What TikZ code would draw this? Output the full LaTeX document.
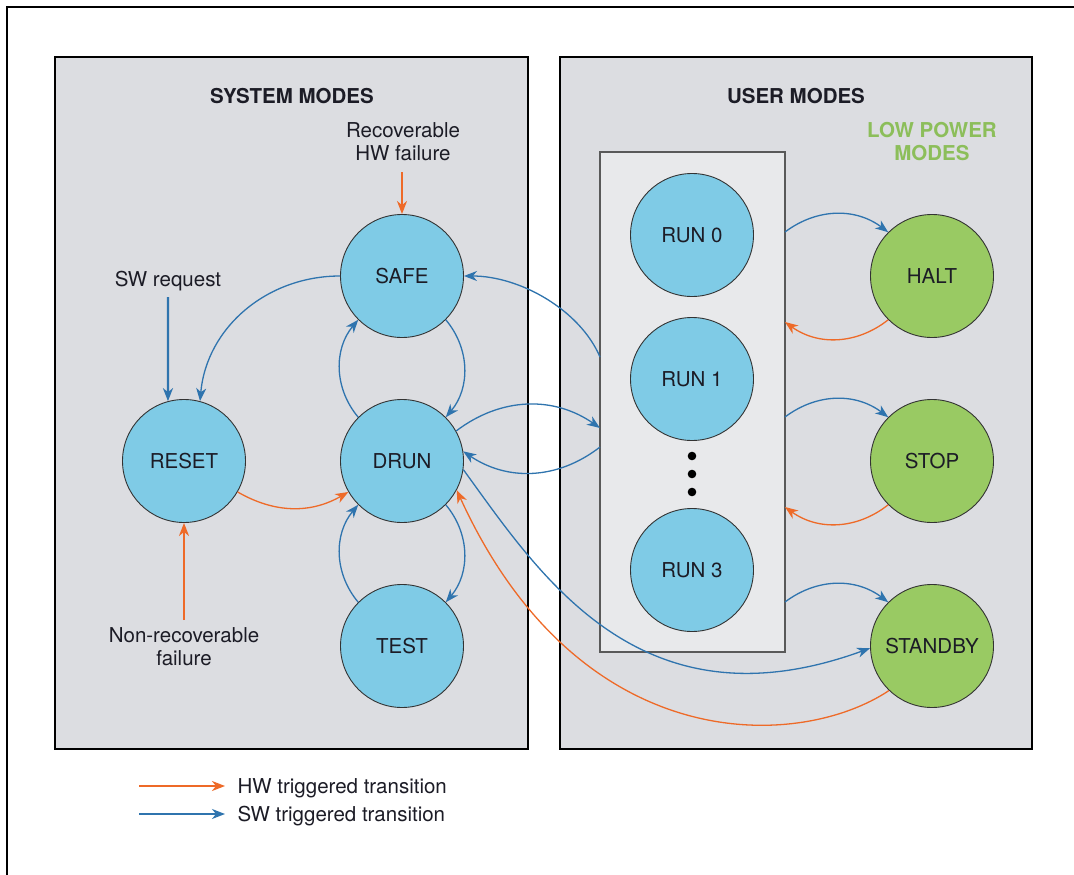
\documentclass[tikz,border=0pt]{standalone}
\usepackage{fontspec}
\setmainfont{TeX Gyre Heros}
\usetikzlibrary{arrows.meta}
\definecolor{panelgray}{HTML}{DCDDE1}
\definecolor{innergray}{HTML}{E8E9EB}
\definecolor{cblue}{HTML}{7FCBE6}
\definecolor{cgreen}{HTML}{99CA63}
\definecolor{ablue}{HTML}{2F74AE}
\definecolor{aorange}{HTML}{EE6A28}
\definecolor{tgreen}{HTML}{8CBE5A}
\definecolor{txt}{HTML}{1C1C26}
\begin{document}
\begin{tikzpicture}[x=1pt,y=1pt,
  font=\fontsize{20.5}{23}\selectfont,
  state/.style={circle, draw=black!80, line width=0.9pt, minimum size=123pt, inner sep=0pt, text=txt},
  umode/.style={state, fill=cblue},
  lpmode/.style={state, fill=cgreen},
  tip/.style={-{Stealth[length=13pt,width=10pt,inset=4pt]}},
  sw/.style={tip, draw=ablue, line width=1.3pt},
  hw/.style={tip, draw=aorange, line width=1.3pt},
  panelbox/.style={draw=black, line width=2.2pt, fill=panelgray, inner sep=0pt},
  lbl/.style={align=center, text=txt},
  ttl/.style={font=\fontsize{20.5}{23}\selectfont\bfseries, text=txt}
]
\useasboundingbox (0,0) rectangle (1074,-875);
\fill[white] (0,0) rectangle (1074,-875);
\draw[line width=2.6pt] (7,-876) -- (7,-7) -- (1075,-7);

% panels
\node[panelbox, minimum width=473pt, minimum height=692pt] (sys) at (291.5,-403) {};
\node[panelbox, minimum width=472pt, minimum height=692pt] (usr) at (796,-403) {};
\node[draw=black!65, line width=1.6pt, fill=innergray, minimum width=185pt, minimum height=500pt, inner sep=0pt] (runbox) at (692.5,-402) {};

% titles and labels
\node[ttl] (systitle) at (292,-96) {SYSTEM MODES};
\node[ttl] (usrtitle) at (796,-96) {USER MODES};
\node[ttl, text=tgreen, align=center] (lptitle) at (932,-142) {LOW POWER\\MODES};
\node[lbl] (recov) at (403,-142) {Recoverable\\HW failure};
\node[lbl, anchor=base] (swreq) at (168,-286) {SW request};
\node[lbl] (nonrec) at (184,-647) {Non-recoverable\\failure};

% states
\node[umode] (safe) at (402,-276) {SAFE};
\node[umode] (drun) at (402,-461) {DRUN};
\node[umode] (test) at (402,-646) {TEST};
\node[umode] (reset) at (184,-461) {RESET};
\node[umode] (run0) at (692,-235) {RUN 0};
\node[umode] (run1) at (692,-379) {RUN 1};
\node[umode] (run3) at (692,-570) {RUN 3};
\node[lpmode] (halt) at (932,-276) {HALT};
\node[lpmode] (stop) at (932,-461) {STOP};
\node[lpmode] (standby) at (932,-646) {STANDBY};

\foreach \yy in {456,474,492} \fill[black] (692,-\yy) circle (4.3);

% free ends
\coordinate (recovA) at (402,-172);
\coordinate (swA) at (168,-297);
\coordinate (nonA) at (184,-620);
\coordinate (bxSafe) at (600,-357);
\coordinate (bxA) at (600,-428);
\coordinate (bxB) at (600,-447);
\coordinate (bxH1) at (785,-232);
\coordinate (bxH2) at (785,-322);
\coordinate (bxS1) at (785,-417);
\coordinate (bxS2) at (785,-507);
\coordinate (bxT1) at (785,-602);

% external triggers
\draw[hw, line width=2pt] (recovA) -- (safe.north);
\draw[sw, line width=2.2pt] (swA) -- (reset.105);
\draw[hw, line width=2.4pt] (nonA) -- (reset.south);

% system transitions
\draw[sw] (safe.180) to[out=180,in=85] (reset.75);
\draw[hw] (reset.-30) to[bend right=30] (drun.210);
\draw[sw] (safe.-45) to[bend left=40] (drun.45);
\draw[sw] (drun.135) to[bend left=40] (safe.225);
\draw[sw] (drun.-45) to[bend left=40] (test.45);
\draw[sw] (test.135) to[bend left=40] (drun.225);

% system <-> user
\draw[sw] (bxSafe) .. controls (580,-310) and (520,-276) .. (safe.0);
\draw[sw] (drun.29) to[bend left=36] (bxA);
\draw[sw] (bxB) to[bend left=36] (drun.9);

% user <-> low power
\draw[sw] (bxH1) to[bend left=37] (halt.135);
\draw[hw] (halt.225) to[bend left=37] (bxH2);
\draw[sw] (bxS1) to[bend left=37] (stop.135);
\draw[hw] (stop.225) to[bend left=37] (bxS2);
\draw[sw] (bxT1) to[bend left=37] (standby.135);
\draw[sw] (drun.-8) .. controls (540,-575) and (640,-732) .. (standby.182);
\draw[hw] (standby.226) .. controls (800,-750) and (580,-760) .. (drun.-28);

% legend
\coordinate (lh1) at (139,-786);
\coordinate (lh2) at (225,-786);
\coordinate (ls1) at (139,-814);
\coordinate (ls2) at (225,-814);
\draw[hw, line width=2.2pt] (lh1) -- (lh2);
\draw[sw, line width=1.6pt] (ls1) -- (ls2);
\node[lbl, anchor=base west] (lhw) at (234,-793) {HW triggered transition};
\node[lbl, anchor=base west] (lsw) at (234,-821) {SW triggered transition};
\end{tikzpicture}
\end{document}
